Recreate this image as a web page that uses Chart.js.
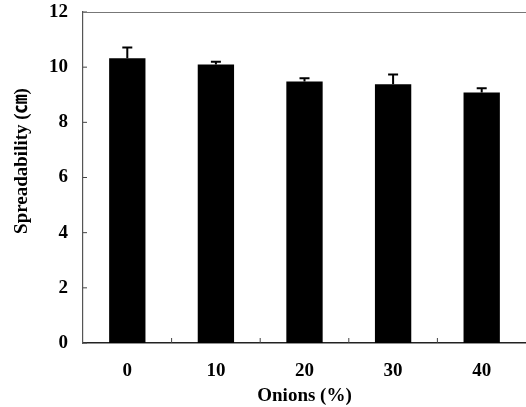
<!DOCTYPE html>
<html>
<head>
<meta charset="utf-8">
<title>Spreadability</title>
<script src="https://cdn.jsdelivr.net/npm/chart.js@4.4.1/dist/chart.umd.min.js"></script>
<style>
  html, body { margin: 0; padding: 0; background: #fff; }
  #wrap { width: 526px; height: 407px; }
</style>
</head>
<body>
<div id="wrap"><canvas id="chart"></canvas></div>
<script>
const categories = ["0", "10", "20", "30", "40"];
const spreadability = [10.32, 10.1, 9.48, 9.38, 9.08];
const errorUpper = [0.39, 0.1, 0.12, 0.35, 0.16];
const yTicks = [0, 2, 4, 6, 8, 10, 12];

const serif = "'Liberation Serif', 'Times New Roman', 'Noto Sans CJK KR', serif";

// upper error bars, inward ticks, top frame line and y title
const extras = {
  id: "extras",
  afterDatasetsDraw(chart) {
    const { ctx, chartArea, scales } = chart;
    const x = scales.x, y = scales.y;
    const meta = chart.getDatasetMeta(0);
    ctx.save();
    ctx.strokeStyle = "#000";
    ctx.lineWidth = 2;
    meta.data.forEach((bar, i) => {
      const top = y.getPixelForValue(spreadability[i]);
      const end = y.getPixelForValue(spreadability[i] + errorUpper[i]);
      ctx.beginPath();
      ctx.moveTo(bar.x, top);
      ctx.lineTo(bar.x, end);
      ctx.moveTo(bar.x - 5, end);
      ctx.lineTo(bar.x + 5, end);
      ctx.stroke();
    });

    // inward ticks
    ctx.lineWidth = 1;
    ctx.strokeStyle = "#444";
    yTicks.forEach((v) => {
      const py = y.getPixelForValue(v);
      ctx.beginPath();
      ctx.moveTo(chartArea.left, py);
      ctx.lineTo(chartArea.left + 4, py);
      ctx.stroke();
    });
    for (let i = 1; i < categories.length; i++) {
      const px = (x.getPixelForValue(i - 1) + x.getPixelForValue(i)) / 2;
      ctx.beginPath();
      ctx.moveTo(px, chartArea.bottom);
      ctx.lineTo(px, chartArea.bottom - 5);
      ctx.stroke();
    }

    // top frame line
    ctx.strokeStyle = "#777";
    ctx.lineWidth = 1.2;
    ctx.beginPath();
    ctx.moveTo(chartArea.left, chartArea.top + 0.5);
    ctx.lineTo(chartArea.right, chartArea.top + 0.5);
    ctx.stroke();

    // y axis title
    ctx.fillStyle = "#000";
    ctx.font = "bold 19px " + serif;
    ctx.textAlign = "center";
    ctx.textBaseline = "middle";
    ctx.translate(22, 161);
    ctx.rotate(-Math.PI / 2);
    ctx.fillText("Spreadability (㎝)", 0, 0);
    ctx.restore();
  }
};

new Chart(document.getElementById("chart"), {
  type: "bar",
  data: {
    labels: categories,
    datasets: [
      {
        data: spreadability,
        backgroundColor: "#000",
        borderWidth: 0,
        categoryPercentage: 1.0,
        barPercentage: 0.41,
      },
    ],
  },
  options: {
    responsive: true,
    maintainAspectRatio: false,
    animation: false,
    layout: { padding: { top: 12, right: 0, left: 0, bottom: 0 } },
    plugins: {
      legend: { display: false },
      tooltip: { enabled: false },
    },
    scales: {
      x: {
        grid: { display: false, drawTicks: false },
        border: { display: true, color: "#222", width: 1.5 },
        ticks: {
          color: "#000",
          padding: 17,
          font: { family: serif, size: 19, weight: "bold" },
        },
        title: {
          display: true,
          text: "Onions (%)",
          color: "#000",
          padding: { top: 0, bottom: 0 },
          font: { family: serif, size: 19, weight: "bold" },
        },
        afterFit: (scale) => {
          scale.height = 64;
          scale.paddingLeft = 0;
          scale.paddingRight = 0;
        },
      },
      y: {
        min: 0,
        max: 12,
        grid: { display: false, drawTicks: false },
        border: { display: true, color: "#555", width: 1.2 },
        ticks: {
          stepSize: 2,
          color: "#000",
          padding: 15,
          font: { family: serif, size: 19, weight: "bold" },
        },
        afterFit: (scale) => {
          scale.width = 83;
          scale.paddingTop = 0;
          scale.paddingBottom = 0;
        },
      },
    },
  },
  plugins: [extras],
});
</script>
</body>
</html>
